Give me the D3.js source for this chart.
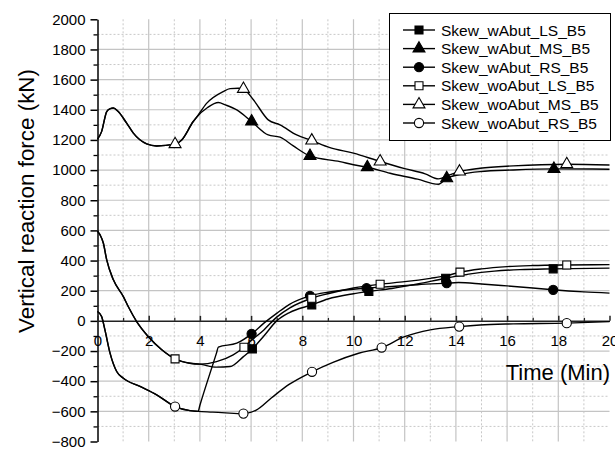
<!DOCTYPE html>
<html>
<head>
<meta charset="utf-8">
<script src="https://d3js.org/d3.v7.min.js"></script>
<style>
  body { margin: 0; background: #fff; }
  text { font-family: 'Liberation Sans', Arial, sans-serif; }
  .grid-major { stroke: #c4c4c4; stroke-width: 1.2; }
  .grid-minor { stroke: #c8c8c8; stroke-width: 1; stroke-dasharray: 2,2; }
  .line { fill: none; stroke: #000; stroke-width: 1.4; }
</style>
</head>
<body>
<script>
// ---- data ----
const xTicks = [0, 2, 4, 6, 8, 10, 12, 14, 16, 18, 20]
const yTicks = [-800, -600, -400, -200, 0, 200, 400, 600, 800, 1000, 1200, 1400, 1600, 1800, 2000]

// shared starts: with and without abutment runs coincide early on
const msT0 = [0, 0.16, 0.36, 0.5, 0.62, 0.8, 1.14, 1.4, 1.92, 2.31, 3.03, 3.29, 3.74, 3.87]
const msV0 = [1205, 1255, 1388, 1408, 1412, 1390, 1311, 1245, 1174, 1160, 1172, 1200, 1322, 1350]
const lsT0 = [0, 0.1, 0.23, 0.36, 0.62, 1.01, 1.2, 1.53, 1.98, 2.51, 3.03, 3.61, 4.0]
const lsV0 = [595, 570, 515, 404, 272, 161, 95, -5, -104, -192, -252, -281, -287]
const rsT0 = [0, 0.16, 0.29, 0.49, 0.75, 1.01, 1.66, 2.31, 3.03, 3.61, 3.93]
const rsV0 = [62, 29, -60, -214, -336, -380, -435, -491, -568, -595, -600]

const wLS_t = lsT0.concat([4.65, 5.18, 5.7, 6.05, 6.5, 7.0, 7.5, 8.37, 9, 10, 10.6, 11.5, 12.5, 13.6, 14.5, 15.5, 16.5, 17.8, 20])
const wLS_v = lsV0.concat([-307, -303, -237, -186, -100, 0, 55, 106, 145, 180, 195, 215, 245, 283, 310, 330, 340, 345, 350])
const wMS_t = msT0.concat([4.3, 4.72, 5.0, 5.44, 6.02, 6.67, 7.13, 7.65, 8.3, 9.47, 10, 10.54, 11.43, 12.5, 13.32, 13.64, 14.2, 14.94, 16.24, 17.83, 20])
const wMS_v = msV0.concat([1415, 1448, 1432, 1399, 1322, 1233, 1218, 1160, 1094, 1056, 1035, 1019, 979, 940, 906, 946, 972, 990, 1001, 1008, 1006])
const wRS_t = rsT0.concat([4.0, 4.65, 4.72, 5.44, 6.02, 6.5, 7.0, 7.5, 8.3, 9, 10, 10.51, 11.5, 12.5, 13.64, 14.1, 15, 16, 17, 17.8, 19, 20])
const wRS_v = rsV0.concat([-560, -212, -174, -148, -86, -15, 50, 110, 166, 190, 210, 217, 228, 240, 250, 254, 245, 232, 218, 206, 192, 184])
const woLS_t = lsT0.concat([4.65, 5.3, 5.72, 5.96, 6.5, 7.0, 7.5, 8.37, 9, 10, 11.04, 12, 13, 13.6, 14.16, 15, 16, 17, 18.33, 20])
const woLS_v = lsV0.concat([-270, -225, -175, -137, -60, 25, 85, 150, 180, 218, 243, 260, 282, 298, 323, 345, 360, 367, 371, 373])
const woMS_t = msT0.concat([4.27, 4.91, 5.18, 5.5, 5.7, 6.09, 6.67, 7.13, 7.78, 8.37, 9.08, 10, 11.04, 12, 12.8, 13.32, 13.7, 14.14, 14.94, 16.24, 18.33, 20])
const woMS_v = msV0.concat([1444, 1521, 1540, 1543, 1538, 1466, 1333, 1300, 1233, 1196, 1149, 1112, 1057, 1010, 975, 942, 965, 990, 1012, 1028, 1039, 1034])
const woRS_t = rsT0.concat([4.5, 5.0, 5.7, 6.2, 6.8, 7.5, 8.38, 9.2, 10.2, 11.1, 12, 13, 14.13, 14.94, 16.24, 18.33, 20])
const woRS_v = rsV0.concat([-605, -610, -615, -592, -510, -420, -338, -275, -215, -177, -105, -60, -38, -27, -20, -15, -5])

// times at which the symbols sit
const wLS_m = [6.05, 8.37, 10.6, 13.6, 17.8]
const wMS_m = [6.02, 8.3, 10.54, 13.64, 17.83]
const wRS_m = [6.02, 8.3, 10.51, 13.64, 17.8]
const woLS_m = [3.03, 5.72, 8.37, 11.04, 14.16, 18.33]
const woMS_m = [3.03, 5.7, 8.37, 11.04, 14.14, 18.33]
const woRS_m = [3.03, 5.7, 8.38, 11.1, 14.13, 18.33]

const series = [
  {name: 'Skew_wAbut_LS_B5', t: wLS_t, v: wLS_v, m: wLS_m, sym: 'square', fill: '#000'},
  {name: 'Skew_wAbut_MS_B5', t: wMS_t, v: wMS_v, m: wMS_m, sym: 'triangle', fill: '#000'},
  {name: 'Skew_wAbut_RS_B5', t: wRS_t, v: wRS_v, m: wRS_m, sym: 'circle', fill: '#000'},
  {name: 'Skew_woAbut_LS_B5', t: woLS_t, v: woLS_v, m: woLS_m, sym: 'square', fill: '#fff'},
  {name: 'Skew_woAbut_MS_B5', t: woMS_t, v: woMS_v, m: woMS_m, sym: 'triangle', fill: '#fff'},
  {name: 'Skew_woAbut_RS_B5', t: woRS_t, v: woRS_v, m: woRS_m, sym: 'circle', fill: '#fff'}
]

// ---- layout ----
const W = 615, H = 450
const svg = d3.select('body').append('svg')
  .attr('width', W).attr('height', H)

const x = d3.scaleLinear().domain([0, 20]).range([97.5, 609.5])
const y = d3.scaleLinear().domain([-800, 2000]).range([441.5, 19.3])

// grid
const grid = svg.append('g')
d3.range(1, 20).forEach(t => {
  grid.append('line')
    .attr('class', t % 2 ? 'grid-minor' : 'grid-major')
    .attr('x1', x(t)).attr('x2', x(t))
    .attr('y1', y(2000)).attr('y2', y(-800))
})
d3.range(-700, 2000, 100).filter(v => v !== 0).forEach(v => {
  grid.append('line')
    .attr('class', v % 200 ? 'grid-minor' : 'grid-major')
    .attr('x1', x(0)).attr('x2', x(20))
    .attr('y1', y(v)).attr('y2', y(v))
})

// y axis
const yAxis = svg.append('g')
  .attr('transform', 'translate(' + x(0) + ',0)')
  .call(d3.axisLeft(y).tickValues(yTicks).tickFormat(d3.format('d')).tickSize(7).tickPadding(5).tickSizeOuter(0))
yAxis.selectAll('text').style('font-size', '15px').attr('fill', '#000')
yAxis.selectAll('line, path').attr('stroke', '#000').attr('stroke-width', 1.5)
svg.append('g')
  .attr('transform', 'translate(' + x(0) + ',0)')
  .call(d3.axisLeft(y).tickValues(d3.range(-700, 2000, 200)).tickSize(4).tickFormat(''))
  .call(g => g.select('.domain').remove())
  .selectAll('line').attr('stroke', '#000').attr('stroke-width', 1.3)

// x axis through zero
const xAxis = svg.append('g')
  .attr('transform', 'translate(0,' + y(0) + ')')
  .call(d3.axisBottom(x).tickValues(xTicks).tickFormat(d3.format('d')).tickSizeInner(-5).tickSizeOuter(0).tickPadding(14))
xAxis.selectAll('text').style('font-size', '15px').attr('fill', '#000')
xAxis.selectAll('line, path').attr('stroke', '#222').attr('stroke-width', 1.5)
svg.append('g')
  .attr('transform', 'translate(0,' + y(0) + ')')
  .call(d3.axisBottom(x).tickValues(d3.range(1, 20, 2)).tickSizeInner(-3).tickFormat(''))
  .call(g => g.select('.domain').remove())
  .selectAll('line').attr('stroke', '#222').attr('stroke-width', 1.3)

// titles
const yTitle = svg.append('text')
  .attr('transform', 'translate(34,201) rotate(-90)')
  .attr('text-anchor', 'middle')
  .style('font-size', '22px')
  .text('Vertical reaction force (kN)')
// the title runs from about y=68 to y=333 in the figure
const tl = yTitle.node().getComputedTextLength()
if (tl > 0) yTitle.style('font-size', (22 * 264 / tl).toFixed(2) + 'px')

svg.append('text')
  .attr('x', 610).attr('y', 380)
  .attr('text-anchor', 'end')
  .style('font-size', '22px')
  .text('Time (Min)')

// symbols
const symType = {square: d3.symbolSquare, triangle: d3.symbolTriangle, circle: d3.symbolCircle}
const symSize = {square: 64, triangle: 62, circle: 66}
function drawSym(g, s, cx, cy) {
  g.append('path')
    .attr('d', d3.symbol().type(symType[s.sym]).size(symSize[s.sym])())
    .attr('transform', 'translate(' + cx + ',' + cy + ')')
    .attr('fill', s.fill)
    .attr('stroke', '#000')
    .attr('stroke-width', 1.1)
}

// curves
const line = d3.line()
  .x(d => x(d[0]))
  .y(d => y(d[1]))
  .curve(d3.curveMonotoneX)

const lines = svg.append('g')
series.forEach(s => {
  lines.append('path')
    .attr('class', 'line')
    .attr('d', line(s.t.map((t, i) => [t, s.v[i]])))
})
const marks = svg.append('g')
series.forEach(s => {
  s.m.forEach(t => {
    const i = s.t.indexOf(t)
    drawSym(marks, s, x(t), y(s.v[i]))
  })
})

// legend
const lg = svg.append('g')
lg.append('rect')
  .attr('x', 389.5).attr('y', 13.5).attr('width', 221).attr('height', 127)
  .attr('fill', '#fff').attr('stroke', '#000').attr('stroke-width', 1)
series.forEach((s, i) => {
  const ry = 30 + i * 18.6
  lg.append('line')
    .attr('x1', 403).attr('x2', 435).attr('y1', ry).attr('y2', ry)
    .attr('stroke', '#000').attr('stroke-width', 1.4)
  drawSym(lg, s, 419, ry)
  lg.append('text')
    .attr('x', 441).attr('y', ry + 5.5)
    .style('font-size', '15.5px')
    .text(s.name)
})
</script>
</body>
</html>
